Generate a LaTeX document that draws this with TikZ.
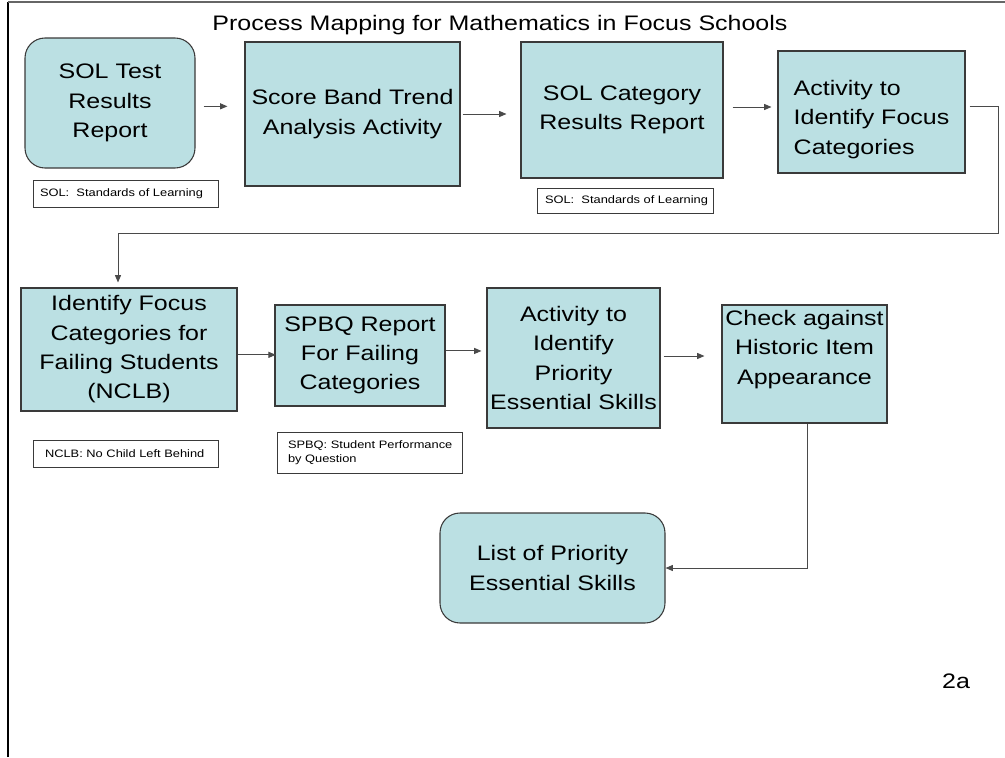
\documentclass[tikz,border=0pt]{standalone}
\usepackage{fontspec}
\setmainfont{Liberation Sans}[FakeStretch=1.19]
\usetikzlibrary{arrows.meta}

\definecolor{boxfill}{HTML}{BBE0E3}
\definecolor{edgegray}{HTML}{3A3A3A}
\definecolor{linegray}{HTML}{4A4A4A}

\tikzset{
  stepbox/.style={draw=edgegray, line width=0.8pt, fill=boxfill, inner sep=0pt,
    align=center, font=\fontsize{15.75}{22}\selectfont},
  roundbox/.style={stepbox, rounded corners=15pt},
  boxtext/.style={inner sep=0pt, font=\fontsize{15.75}{22}\selectfont},
  note/.style={draw=edgegray, line width=0.6pt, fill=white, inner ysep=0pt,
    align=left, font=\fontsize{8.1}{10.5}\selectfont},
  conn/.style={draw=linegray, line width=0.75pt, -{Triangle[length=5.5pt,width=4.5pt]}},
}

\begin{document}
\begin{tikzpicture}[x=0.75pt,y=-0.75pt]
\useasboundingbox (0,0) rectangle (1005,757);

% page frame
\draw[black, line width=0.9pt] (8,757) -- (8,2);
\draw[black!60, line width=0.9pt] (8,2) -- (1005,2);

% title
\node[anchor=base, inner sep=0pt, font=\fontsize{15.75}{19}\selectfont] (title) at (500,30)
  {Process Mapping for Mathematics in Focus Schools};

% first row
\node[roundbox, minimum width=127.5pt, minimum height=97.5pt] (sol) at (110,103)
  {SOL Test\\Results\\Report};
\node[stepbox, minimum width=161.25pt, minimum height=108pt] (score) at (352.5,114)
  {Score Band Trend\\Analysis Activity};
\node[stepbox, minimum width=151.5pt, minimum height=102pt] (solcat) at (622,110)
  {SOL Category\\Results Report};
\node[stepbox, minimum width=140.25pt, minimum height=91.5pt] (act) at (871.5,112) {};
\node[boxtext, anchor=west, align=left] (actT) at ([xshift=12pt,yshift=-5.6pt]act.west)
  {Activity to\\Identify Focus\\Categories};

% notes under the first row
\node[note, minimum height=20.25pt, inner xsep=5.25pt, text width=128.25pt] (solnoteA) at (125.5,193.5)
  {\mbox{SOL:\ \ Standards of Learning}};
\node[note, minimum height=18.75pt, inner xsep=6pt, text width=120pt] (solnoteB) at (625,200.5)
  {\mbox{SOL:\ \ Standards of Learning}};

% second row
\node[stepbox, minimum width=162pt, minimum height=92.25pt] (idf) at (129,349.5)
  {Identify Focus\\Categories for\\Failing Students\\(NCLB)};
\node[stepbox, minimum width=127.5pt, minimum height=75.75pt] (spbq) at (360,355.5)
  {SPBQ Report\\For Failing\\Categories};
\node[stepbox, minimum width=129.75pt, minimum height=105pt] (aprio) at (573.5,358)
  {Activity to\\Identify\\Priority\\Essential Skills};
\node[stepbox, minimum width=123.75pt, minimum height=88.5pt] (check) at (804.5,364) {};
\node[boxtext, align=center] (checkT) at ([yshift=10.9pt]check.center)
  {Check against\\Historic Item\\Appearance};

% notes under the second row
\node[note, minimum height=20.25pt, inner xsep=9pt, text width=120.75pt] (nclbnote) at (125.5,453.5)
  {\mbox{NCLB: No Child Left Behind}};
\node[note, minimum height=30.75pt, inner xsep=8.25pt, text width=122.25pt] (spbqnote) at (369.5,452.5)
  {\mbox{SPBQ: Student Performance}\\\mbox{by Question}};

% result
\node[roundbox, minimum width=168.75pt, minimum height=82.5pt] (list) at (552.5,568)
  {List of Priority\\Essential Skills};

% page number
\node[anchor=base, inner sep=0pt, font=\fontsize{15.75}{19}\selectfont] (pagenum) at (956,688) {2a};

% connectors
\coordinate (turnA) at (998,233);
\draw[conn, shorten <=6pt, shorten >=12.75pt]
  ([yshift=-2.5pt]sol.east) -- ([yshift=-2.5pt]sol.east -| score.west);
\draw[conn, shorten <=1.5pt, shorten >=10.5pt]
  (score.east) -- (score.east -| solcat.west);
\draw[conn, shorten <=6.75pt, shorten >=4.5pt]
  ([yshift=2.25pt]solcat.east) -- ([yshift=2.25pt]solcat.east -| act.west);
\draw[conn] ([shift={(3pt,4.5pt)}]act.east) -| (turnA) -| ([shift={(-8.25pt,3.75pt)}]idf.north);
\draw[conn, shorten >=-1pt]
  ([yshift=-4pt]idf.east) -- ([yshift=-4pt]idf.east -| spbq.west);
\draw[conn, shorten >=3.75pt]
  ([yshift=3.4pt]spbq.east) -- ([yshift=3.4pt]spbq.east -| aprio.west);
\draw[conn, shorten <=2.25pt, shorten >=12.75pt]
  ([yshift=1.5pt]aprio.east) -- ([yshift=1.5pt]aprio.east -| check.west);
\draw[conn] ([xshift=2.5pt]check.south) |- (list.east);

\end{tikzpicture}
\end{document}
